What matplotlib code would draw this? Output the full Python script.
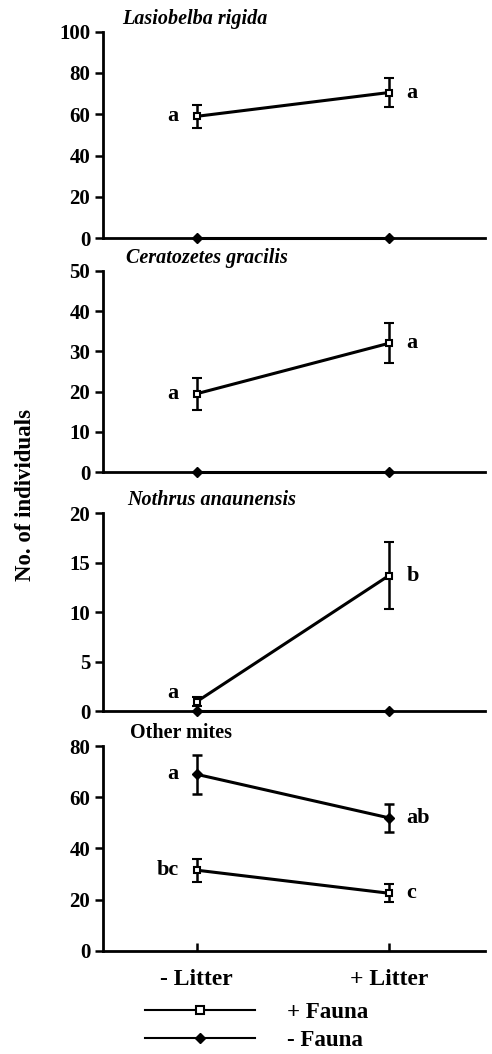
import matplotlib
matplotlib.use("Agg")
import matplotlib.pyplot as plt
from matplotlib.lines import Line2D

plt.rcParams['font.family'] = ['Liberation Serif', 'DejaVu Serif']
plt.rcParams['font.weight'] = 'bold'

# treatments on the x axis
litter = ["- Litter", "+ Litter"]

# panel titles
titles = ["Lasiobelba rigida", "Ceratozetes gracilis", "Nothrus anaunensis", "Other mites"]

# +Fauna means and standard errors
plus_mean = [[59, 70.5], [19.5, 32], [1, 13.7], [31.5, 22.5]]
plus_err = [[5.5, 7], [4, 5], [0.5, 3.4], [4.5, 3.5]]

# -Fauna means and standard errors
minus_mean = [[0, 0], [0, 0], [0, 0], [69, 52]]
minus_err = [[0, 0], [0, 0], [0, 0], [7.5, 5.5]]

# letters for significance
plus_letters = [["a", "a"], ["a", "a"], ["a", "b"], ["bc", "c"]]
minus_letters = [["", ""], ["", ""], ["", ""], ["a", "ab"]]

ymax = [100, 50, 20, 80]
ystep = [20, 10, 5, 20]

fig = plt.figure(figsize=(4.92, 10.54), dpi=100)

# axes boxes (left, bottom, width, height)
boxes = [
    [0.209, 0.774, 0.776, 0.196],
    [0.209, 0.552, 0.776, 0.191],
    [0.209, 0.325, 0.776, 0.188],
    [0.209, 0.098, 0.776, 0.194],
]
title_x = [0.05, 0.06, 0.065, 0.07]

xs = [0, 1]
for i in range(4):
    ax = fig.add_axes(boxes[i])
    ax.set_xlim(-0.49, 1.5)
    ax.set_ylim(0, ymax[i])
    ax.set_yticks(range(0, ymax[i] + 1, ystep[i]))
    for s in ['top', 'right']:
        ax.spines[s].set_visible(False)
    for s in ['left', 'bottom']:
        ax.spines[s].set_linewidth(2)
    ax.tick_params(axis='y', length=6, width=1.8, labelsize=15, pad=3)
    for lab in ax.get_yticklabels():
        lab.set_fontweight('bold')

    # -Fauna
    ax.errorbar(xs, minus_mean[i], yerr=minus_err[i] if i == 3 else None,
                color='black', lw=2.2, marker='D', ms=5, mfc='black',
                capsize=3.5, elinewidth=1.8, capthick=1.8, clip_on=False, zorder=3)
    # +Fauna
    ax.errorbar(xs, plus_mean[i], yerr=plus_err[i],
                color='black', lw=2.2, marker='s', ms=5, mfc='white', mew=1.5,
                capsize=3.5, elinewidth=1.8, capthick=1.8, clip_on=False, zorder=4)

    # letters
    for j in range(2):
        dx = -18 if j == 0 else 18
        ha = 'right' if j == 0 else 'left'
        dy = 9 if i == 2 and j == 0 else 0
        if plus_letters[i][j]:
            ax.annotate(plus_letters[i][j], (xs[j], plus_mean[i][j]),
                        xytext=(dx, dy), textcoords='offset pixels',
                        ha=ha, va='center', fontsize=16, fontweight='bold')
        if minus_letters[i][j]:
            ax.annotate(minus_letters[i][j], (xs[j], minus_mean[i][j]),
                        xytext=(dx, 0), textcoords='offset pixels',
                        ha=ha, va='center', fontsize=16, fontweight='bold')

    # panel title
    style = 'normal' if i == 3 else 'italic'
    ax.text(title_x[i], 1.015, titles[i], transform=ax.transAxes, fontsize=14.5,
            fontweight='bold', fontstyle=style, ha='left', va='bottom')

    if i == 3:
        ax.set_xticks(xs)
        ax.set_xticklabels(litter, fontsize=17, fontweight='bold')
        ax.tick_params(axis='x', direction='in', length=6, width=1.8, pad=13)
    else:
        ax.set_xticks([])

fig.text(0.051, 0.530, "No. of individuals", rotation=90, ha='center', va='center',
         fontsize=16.5, fontweight='bold')

handles = [
    Line2D([], [], color='black', lw=1.5, marker='s', ms=6, mfc='white', mew=1.5),
    Line2D([], [], color='black', lw=1.5, marker='D', ms=5.5, mfc='black'),
]
fig.legend(handles, ["+ Fauna", "- Fauna"], loc='center', bbox_to_anchor=(0.522, 0.026),
           frameon=False, handlelength=4.8, handletextpad=1.4, labelspacing=0.3,
           prop={'size': 16.5, 'weight': 'bold'})

fig.savefig("out.png", dpi=100)
